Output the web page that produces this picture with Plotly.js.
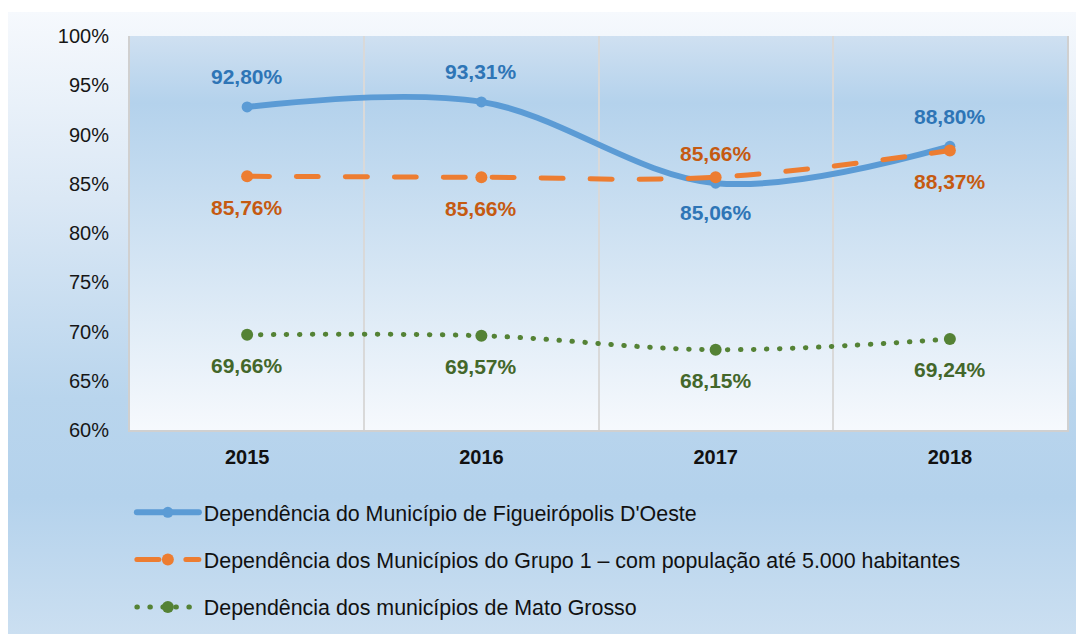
<!DOCTYPE html>
<html>
<head>
<meta charset="utf-8">
<script src="https://cdn.plot.ly/plotly-3.0.1.min.js"></script>
<style>
  html, body { margin: 0; padding: 0; background: #ffffff; }
  #wrap { position: relative; width: 1079px; height: 634px; background: #ffffff; overflow: hidden; }
  #outerbg { position: absolute; left: 8px; top: 12px; width: 1068px; height: 622px;
    background: linear-gradient(to bottom, #f6f9fd 0%, #dbe8f5 30%, #b9d5ed 62%, #b4d2ec 78%, #cbdff1 100%); }
  #plotbg { position: absolute; left: 130px; top: 36px; width: 937px; height: 394px;
    background: linear-gradient(to bottom, #cfe0f1 0%, #b4d2ec 17%, #d6e6f4 60%, #f6f9fd 100%); }
  #chart { position: absolute; left: 0; top: 0; width: 1079px; height: 634px; }
  #chart .js-line { stroke-linecap: round; }
</style>
</head>
<body>
<div id="wrap">
  <div id="outerbg"></div>
  <div id="plotbg"></div>
  <div id="chart"></div>
</div>
<script>
const years = ['2015', '2016', '2017', '2018'];
const figueiropolis = [92.80, 93.31, 85.06, 88.80];
const grupo1 = [85.76, 85.66, 85.66, 88.37];
const matoGrosso = [69.66, 69.57, 68.15, 69.24];
const seriesNames = [
  "Dependência do Município de Figueirópolis D'Oeste",
  "Dependência dos Municípios do Grupo 1 – com população até 5.000 habitantes",
  "Dependência dos municípios de Mato Grosso"
];
const yTickVals = [60, 65, 70, 75, 80, 85, 90, 95, 100];
const yTickText = ['60%', '65%', '70%', '75%', '80%', '85%', '90%', '95%', '100%'];

// label placement: +1 above, -1 below
const blueLabelSide = [1, 1, -1, 1];
const orangeLabelSide = [-1, -1, 1, -1];
const greenLabelSide = [-1, -1, -1, -1];

const xIdx = years.map((_, i) => i);
const fmt = v => v.toFixed(2).replace('.', ',') + '%';

const colors = {
  blue: '#5b9bd5', orange: '#ed7d31', green: '#548235',
  blueLbl: '#2e75b6', orangeLbl: '#c55a11', greenLbl: '#43672a'
};

const traces = [
  {
    x: xIdx, y: figueiropolis, name: seriesNames[0], type: 'scatter', mode: 'lines+markers',
    line: { color: colors.blue, width: 6, shape: 'spline', smoothing: 1 },
    marker: { color: colors.blue, size: 11 },
    legendgroup: 'a', hoverinfo: 'skip'
  },
  {
    x: xIdx, y: grupo1, name: seriesNames[1], type: 'scatter', mode: 'lines+markers',
    line: { color: colors.orange, width: 5, shape: 'spline', smoothing: 1, dash: '22px,27px' },
    marker: { color: colors.orange, size: 12 },
    legendgroup: 'b', hoverinfo: 'skip'
  },
  {
    x: xIdx, y: matoGrosso, name: seriesNames[2], type: 'scatter', mode: 'lines+markers',
    line: { color: colors.green, width: 5, shape: 'spline', smoothing: 1, dash: '0.5px,12.5px' },
    marker: { color: colors.green, size: 12 },
    legendgroup: 'c', hoverinfo: 'skip'
  }
];

const annotations = [];
function addLabels(vals, sides, color, shiftAbove, shiftBelow) {
  vals.forEach((v, i) => {
    annotations.push({
      x: xIdx[i], y: v, xref: 'x', yref: 'y', text: fmt(v), showarrow: false,
      yshift: sides[i] > 0 ? shiftAbove : -shiftBelow,
      font: { family: 'Liberation Sans, Arial, sans-serif', size: 21, color: color, weight: 'bold' }
    });
  });
}
addLabels(figueiropolis, blueLabelSide, colors.blueLbl, 30, 29);
addLabels(grupo1, orangeLabelSide, colors.orangeLbl, 24, 31);
addLabels(matoGrosso, greenLabelSide, colors.greenLbl, 30, 31);

const layout = {
  width: 1079, height: 634,
  paper_bgcolor: 'rgba(0,0,0,0)', plot_bgcolor: 'rgba(0,0,0,0)',
  margin: { l: 130, r: 12, t: 36, b: 204, autoexpand: false },
  font: { family: 'Liberation Sans, Arial, sans-serif', size: 16, color: '#1a1a1a' },
  xaxis: {
    range: [-0.5, 3.5], tickvals: xIdx, ticktext: years, showgrid: false,
    minor: { tick0: 0.5, dtick: 1, showgrid: true, gridcolor: '#d9d9d9', gridwidth: 2, ticks: '' },
    showline: true, linecolor: '#d0d0d0', linewidth: 2, mirror: false, ticks: '',
    tickfont: { size: 20, color: '#111111', weight: 'bold' }, ticklabelstandoff: 8,
    zeroline: false, fixedrange: true
  },
  yaxis: {
    range: [60, 100], tickvals: yTickVals, ticktext: yTickText, showgrid: false,
    showline: true, linecolor: '#d0d0d0', linewidth: 2, mirror: true, ticks: '',
    tickfont: { size: 20, color: '#161616' }, ticklabelstandoff: 15,
    zeroline: false, fixedrange: true
  },
  showlegend: true,
  legend: {
    orientation: 'v', x: 0.002, xanchor: 'left', y: -0.157, yanchor: 'top',
    bgcolor: 'rgba(0,0,0,0)', borderwidth: 0, traceorder: 'grouped', tracegroupgap: 16.5,
    itemwidth: 62, font: { size: 21.4, color: '#111111' }
  },
  annotations: annotations
};

Plotly.newPlot('chart', traces, layout, { staticPlot: true, displayModeBar: false });
</script>
</body>
</html>
